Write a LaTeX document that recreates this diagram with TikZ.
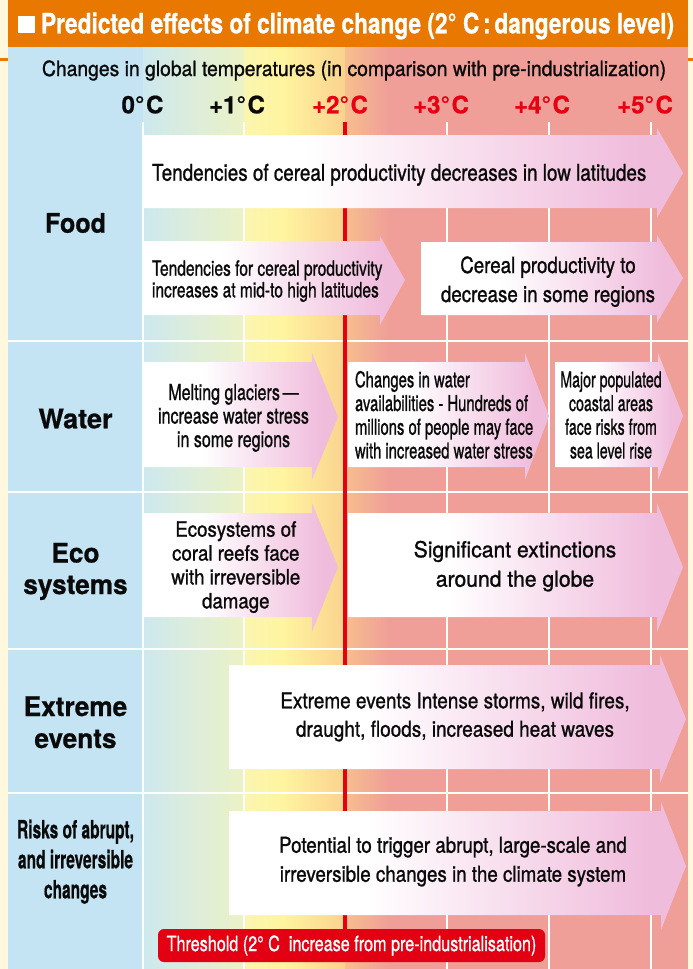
\documentclass[tikz,border=0pt]{standalone}
\usepackage{fontspec}
\setmainfont{TeX Gyre Heros}[UprightFeatures={FakeBold=1.2}, BoldFeatures={FakeBold=0.8}]
\usepackage{graphicx}
\definecolor{cream}{RGB}{255,248,222}
\definecolor{torange}{RGB}{232,120,0}
\definecolor{lblue}{RGB}{196,228,244}
\definecolor{salmon}{RGB}{239,158,152}
\definecolor{apink}{RGB}{240,188,220}
\definecolor{tred}{RGB}{230,0,18}
\definecolor{boxred}{RGB}{226,0,18}
\definecolor{txt}{RGB}{10,10,10}
\definecolor{bgA}{RGB}{205,232,238}
\definecolor{bgB}{RGB}{236,242,198}
\definecolor{bgC}{RGB}{250,245,176}
\definecolor{bgD}{RGB}{255,245,160}
\definecolor{bgE}{RGB}{250,210,142}
\definecolor{bgF}{RGB}{247,190,142}
\pgfdeclarehorizontalshading{arrowshade}{100bp}{color(0bp)=(white); color(40bp)=(white); color(71bp)=(apink); color(100bp)=(apink)}
\newcommand\onel[3]{\scalebox{#1}[1]{\fontsize{#2}{#2}\selectfont #3}}
\newcommand\multil[5]{\scalebox{#1}[1]{\fontsize{#2}{#3}\selectfont\begin{tabular}{@{}#4@{}}#5\end{tabular}}}
% x1, xb, xtip, ytop, ybot, headtop, headbot, ytip
\newcommand\blockarrow[8]{\shade[shading=arrowshade] (#1,#4) -- (#2,#4) -- (#2,#6) -- (#3,#8) -- (#2,#7) -- (#2,#5) -- (#1,#5) -- cycle;}
\begin{document}
\begin{tikzpicture}[x=1pt,y=-1pt,
  every node/.style={inner sep=0pt, outer sep=0pt, text=txt},
  gridline/.style={white, line width=2pt},
  temp/.style={anchor=base},
  hot/.style={anchor=base, text=tred}]
\useasboundingbox (0,0) rectangle (693,969);
\fill[cream] (0,0) rectangle (693,969);
\fill[torange] (8,0) rectangle (688,47);
\fill[torange] (0,58) rectangle (8,60.5);
\fill[torange] (688,58) rectangle (693,60.5);
% panel background
\fill[lblue] (8,47) rectangle (143.5,969);
\shade[left color=bgA, right color=bgB] (143,47) rectangle (244.5,969);
\shade[left color=bgC, right color=bgD] (244,47) rectangle (282,969);
\shade[left color=bgD, right color=bgE] (281.5,47) rectangle (345.5,969);
\shade[left color=bgF, right color=salmon] (345,47) rectangle (390,969);
\fill[salmon] (389.5,47) rectangle (688,969);
% grid
\foreach \gx in {142.5,244,447,549,651} \draw[gridline] (\gx,122) -- (\gx,969);
\foreach \gy in {340.5,492,649,793} \draw[gridline] (8,\gy) -- (688,\gy);
\draw[tred, line width=3.5pt] (345,122) -- (345,930);
% arrows
\blockarrow{143}{657}{683}{135}{208}{128}{218}{173}
\blockarrow{143}{380}{405}{241}{315}{236}{325}{280}
\blockarrow{421}{657}{683}{242}{315}{235}{323}{278}
\blockarrow{143}{312}{338}{362}{467}{353}{480}{417}
\blockarrow{348}{525}{549}{362}{467}{353}{480}{416}
\blockarrow{555}{658}{683}{362}{467}{353}{480}{416}
\blockarrow{143}{312}{338}{513}{617}{503}{632}{567}
\blockarrow{348}{657}{683}{513}{617}{503}{632}{567}
\blockarrow{229}{660}{686}{665}{769}{655}{783}{719}
\blockarrow{229}{661}{686}{811}{915}{802}{930}{866}
% title
\node[fill=white, minimum width=17pt, minimum height=17pt, anchor=north west] (sq) at (18,16) {};
\node[anchor=base west, text=white] (title) at (41,33.3) {\onel{0.81}{28}{\bfseries Predicted effects of climate change (2° C\,:\,dangerous level)}};
\node[anchor=base west] (sub) at (42,76) {\onel{0.92}{21}{Changes in global temperatures (in comparison with pre-industrialization)}};
% temperatures
\node[temp] (t0) at (142.5,113.3) {\onel{1}{24}{\bfseries 0°\kern1.5pt C}};
\node[temp] (t1) at (237,113.3) {\onel{1}{24}{\bfseries +1°\kern1.5pt C}};
\node[hot] (t2) at (340,113.3) {\onel{1}{24}{\bfseries +2°\kern1.5pt C}};
\node[hot] (t3) at (441,113.3) {\onel{1}{24}{\bfseries +3°\kern1.5pt C}};
\node[hot] (t4) at (542,113.3) {\onel{1}{24}{\bfseries +4°\kern1.5pt C}};
\node[hot] (t5) at (645,113.3) {\onel{1}{24}{\bfseries +5°\kern1.5pt C}};
% row labels
\node[anchor=base] (food) at (75.5,232.7) {\onel{0.93}{27}{\bfseries Food}};
\node[anchor=base] (water) at (75.5,428.3) {\onel{1}{27}{\bfseries Water}};
\node (eco) at (75.5,572) {\bfseries\multil{0.97}{27}{31.5}{c}{Eco\\systems}};
\node (extreme) at (75.5,725.6) {\bfseries\multil{0.97}{27}{32}{c}{Extreme\\events}};
\node (risks) at (75.5,862.3) {\bfseries\multil{0.62}{25}{30}{c}{Risks of abrupt,\\and irreversible\\changes}};
% arrow texts
\node[anchor=base west] (a1) at (152,180.7) {\onel{0.82}{23}{Tendencies of cereal productivity decreases in low latitudes}};
\node[anchor=west] (a2) at (152,282) {\multil{0.74}{21}{21}{l}{Tendencies for cereal productivity\\increases at mid-to high latitudes}};
\node (a3) at (548,281.7) {\multil{0.84}{22.3}{29}{c}{Cereal productivity to\\decrease in some regions}};
\node (a4) at (233.5,418.8) {\multil{0.73}{22}{23.5}{c}{Melting glaciers\,—\\increase water stress\\in some regions}};
\node[anchor=west] (a5) at (355,418.1) {\multil{0.68}{21.8}{23.7}{l}{Changes in water\\availabilities - Hundreds of\\millions of people may face\\with increased water stress}};
\node (a6) at (611,418.1) {\multil{0.65}{21.8}{23.7}{c}{Major populated\\coastal areas\\face risks from\\sea level rise}};
\node (a7) at (235.8,567.7) {\multil{0.89}{21}{23.9}{c}{Ecosystems of\\coral reefs face\\with irreversible\\damage}};
\node (a8) at (515,566.1) {\multil{0.96}{22}{29.4}{c}{Significant extinctions\\around the globe}};
\node (a9) at (455,716.8) {\multil{0.87}{21.8}{28.4}{c}{Extreme events Intense storms, wild fires,\\draught, floods, increased heat waves}};
\node (a10) at (453,861.4) {\multil{0.86}{21.8}{29}{c}{Potential to trigger abrupt, large-scale and\\irreversible changes in the climate system}};
% threshold
\node[fill=boxred, rounded corners=6pt, minimum width=387pt, minimum height=33pt, text=white] (thr) at (351.5,945.5) {\onel{0.77}{21}{Threshold (2° C\ \ increase from pre-industrialisation)}};
\end{tikzpicture}
\end{document}
